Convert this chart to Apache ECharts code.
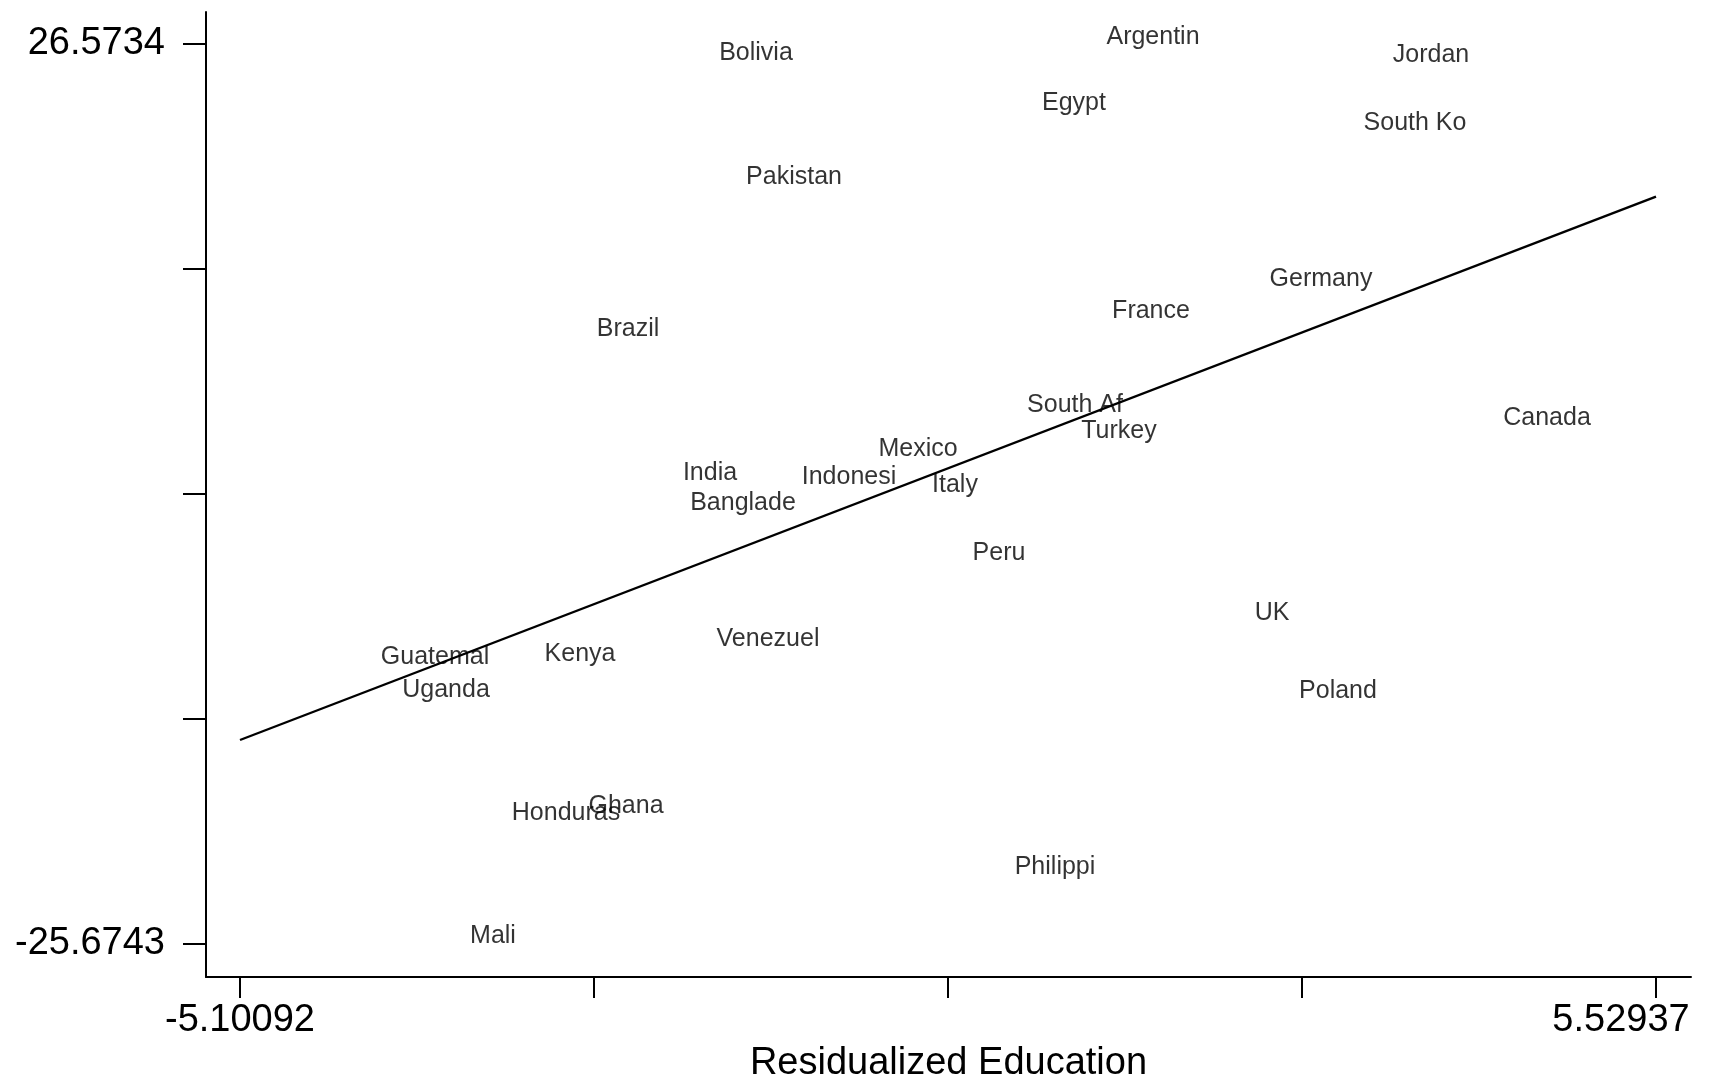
<!DOCTYPE html>
<html>
<head>
<meta charset="utf-8">
<script src="https://cdn.jsdelivr.net/npm/echarts@6/dist/echarts.min.js"></script>
<style>
html,body{margin:0;padding:0;background:#fff;}
#chart{width:1709px;height:1081px;}
</style>
</head>
<body>
<div id="chart"></div>
<script>
// ---- data ----
var countries = ['Bolivia','Argentin','Jordan','Egypt','South Ko','Pakistan','Germany','France','Brazil',
  'South Af','Canada','Turkey','Mexico','India','Indonesi','Italy','Banglade','Peru','UK','Venezuel',
  'Guatemal','Kenya','Uganda','Poland','Ghana','Honduras','Philippi','Mali'];
var eduResid = [-1.2271, 1.7533, 3.8403, 1.1602, 3.7202, -0.9419, 3.0145, 1.7383, -2.1881,
  1.1677, 4.7111, 1.4980, -0.0110, -1.5725, -0.5290, 0.2668, -1.3247, 0.5971, 2.6466, -1.1370,
  -3.6370, -2.5484, -3.5544, 3.1421, -2.2031, -2.6535, 1.0175, -3.2016];
var outResid = [26.126, 27.055, 26.010, 23.224, 22.063, 18.928, 13.006, 11.149, 10.104,
  5.692, 4.937, 4.182, 3.137, 1.744, 1.512, 1.048, 0.002, -2.900, -6.383, -7.893,
  -8.937, -8.763, -10.853, -10.911, -17.588, -17.994, -21.129, -25.135];

// fitted line end points
var fitX = [-5.10092, 5.52937];
var fitY = [-13.872, 17.668];

// ticks
var xTicks = [-5.10092, -2.443347, 0.214225, 2.871797, 5.52937];
var xTickLabelValues = [-5.10092, 5.52937];
var xTickLabels = ['-5.10092', '5.52937'];
var yTicks = [-25.6743, -12.612375, 0.44955, 13.511475, 26.5734];
var yTickLabelValues = [-25.6743, 26.5734];
var yTickLabels = ['-25.6743', '26.5734'];

var xTitle = 'Residualized Education';

// ---- chart ----
var FONT = '"Liberation Sans", Arial, Helvetica, sans-serif';
var chart = echarts.init(document.getElementById('chart'), null, {renderer: 'canvas'});

function pickLabel(vals, labels, v) {
  for (var i = 0; i < vals.length; i++) {
    if (Math.abs(vals[i] - v) < 1e-4) return labels[i];
  }
  return '';
}

var pts = countries.map(function (c, i) { return {name: c, value: [eduResid[i], outResid[i]]}; });
var fitData = fitX.map(function (x, i) { return [x, fitY[i]]; });

var option = {
  animation: false,
  backgroundColor: '#ffffff',
  grid: {left: 206, right: 18, top: 12, bottom: 104, containLabel: false, outerBoundsMode: 'none'},
  xAxis: {
    type: 'value',
    min: -5.35617,
    max: 5.79213,
    name: xTitle,
    nameLocation: 'middle',
    nameGap: 56,
    nameTextStyle: {fontSize: 38, fontFamily: FONT, color: '#000'},
    splitLine: {show: false},
    axisLine: {show: true, onZero: false, lineStyle: {color: '#000', width: 2}},
    axisTick: {show: true, inside: false, length: 21, customValues: xTicks, lineStyle: {color: '#000', width: 2}},
    axisLabel: {
      show: true,
      customValues: xTickLabelValues,
      margin: 25,
      fontSize: 38,
      fontFamily: FONT,
      color: '#000',
      formatter: function (v) {
        var s = pickLabel(xTickLabelValues, xTickLabels, v);
        if (Math.abs(v - xTickLabelValues[xTickLabelValues.length - 1]) < 1e-4) return '{r|' + s + '}';
        return s;
      },
      rich: {
        r: {fontSize: 38, fontFamily: FONT, color: '#000', padding: [0, 70, 0, 0]}
      }
    }
  },
  yAxis: {
    type: 'value',
    min: -27.6307,
    max: 28.3905,
    splitLine: {show: false},
    axisLine: {show: true, onZero: false, lineStyle: {color: '#000', width: 2}},
    axisTick: {show: true, inside: false, length: 23, customValues: yTicks, lineStyle: {color: '#000', width: 2}},
    axisLabel: {
      show: true,
      customValues: yTickLabelValues,
      margin: 41,
      fontSize: 38,
      fontFamily: FONT,
      color: '#000',
      padding: [12, 0, 0, 0],
      formatter: function (v) { return pickLabel(yTickLabelValues, yTickLabels, v); }
    }
  },
  series: [
    {
      type: 'line',
      data: fitData,
      symbol: 'none',
      silent: true,
      lineStyle: {color: '#000', width: 2.4},
      z: 2
    },
    {
      type: 'scatter',
      data: pts,
      symbolSize: 0.01,
      itemStyle: {color: 'rgba(0,0,0,0)'},
      label: {
        show: true,
        position: 'inside',
        offset: [0, 2],
        formatter: '{b}',
        fontSize: 25,
        fontFamily: FONT,
        color: '#000000',
        textBorderWidth: 0,
        align: 'center',
        verticalAlign: 'middle'
      },
      z: 3
    }
  ]
};
chart.setOption(option);
</script>
</body>
</html>
